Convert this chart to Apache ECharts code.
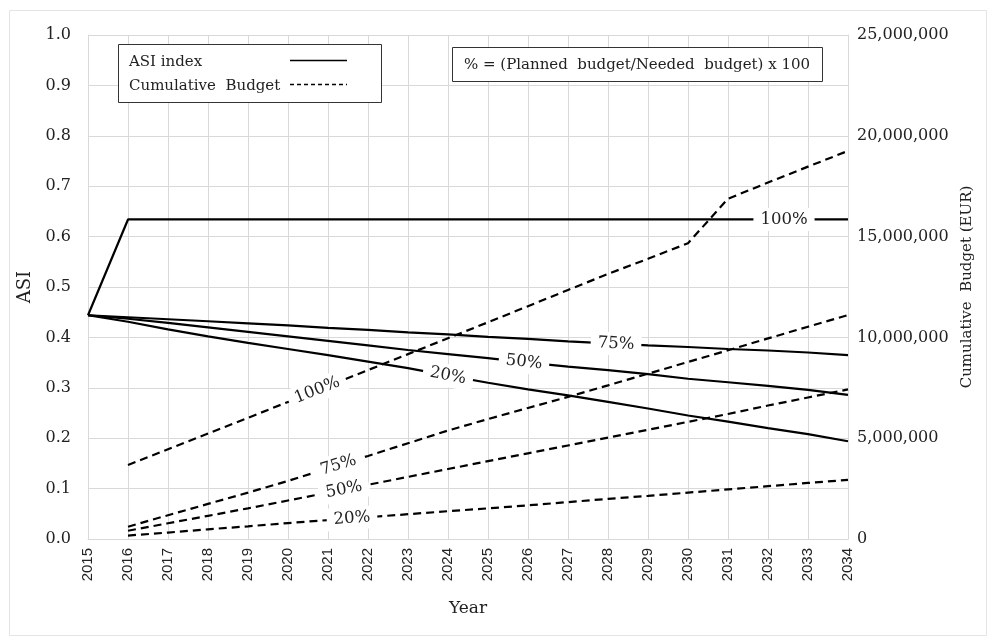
<!DOCTYPE html>
<html>
<head>
<meta charset="utf-8">
<script src="https://cdn.jsdelivr.net/npm/echarts@6/dist/echarts.min.js"></script>
<style>
  html, body { margin: 0; padding: 0; background: #ffffff; }
  #chart { width: 992px; height: 641px; }
</style>
</head>
<body>
<div id="chart"></div>
<script>
// Years on the horizontal axis
const years = [2015, 2016, 2017, 2018, 2019, 2020, 2021, 2022, 2023, 2024,
               2025, 2026, 2027, 2028, 2029, 2030, 2031, 2032, 2033, 2034];

// ASI index for each budget scenario (% of needed budget)
const asi100 = [0.444, 0.634, 0.634, 0.634, 0.634, 0.634, 0.634, 0.634, 0.634, 0.634,
                0.634, 0.634, 0.634, 0.634, 0.634, 0.634, 0.634, 0.634, 0.634, 0.634];
const asi75  = [0.444, 0.440, 0.436, 0.432, 0.428, 0.424, 0.419, 0.415, 0.410, 0.406,
                0.401, 0.397, 0.392, 0.388, 0.384, 0.381, 0.377, 0.374, 0.370, 0.365];
const asi50  = [0.444, 0.437, 0.429, 0.420, 0.411, 0.402, 0.393, 0.384, 0.375, 0.367,
                0.359, 0.350, 0.342, 0.335, 0.327, 0.318, 0.311, 0.304, 0.296, 0.286];
const asi20  = [0.444, 0.431, 0.416, 0.402, 0.389, 0.377, 0.365, 0.352, 0.339, 0.324,
                0.310, 0.297, 0.285, 0.272, 0.259, 0.245, 0.233, 0.220, 0.208, 0.194];

// Cumulative budget (EUR) for each scenario, starting in 2016
const budget100 = [null, 3670000, 4450000, 5230000, 6010000, 6800000, 7590000, 8380000, 9170000, 9960000,
                   10750000, 11550000, 12350000, 13150000, 13900000, 14670000, 16880000, 17680000, 18470000, 19250000];
const budget75  = [null, 610000, 1180000, 1740000, 2300000, 2880000, 3500000, 4120000, 4750000, 5380000,
                   5950000, 6500000, 7050000, 7620000, 8200000, 8780000, 9360000, 9950000, 10530000, 11110000];
const budget50  = [null, 410000, 780000, 1150000, 1520000, 1910000, 2300000, 2690000, 3080000, 3470000,
                   3860000, 4250000, 4640000, 5030000, 5420000, 5810000, 6200000, 6620000, 7020000, 7420000];
const budget20  = [null, 170000, 320000, 480000, 630000, 790000, 940000, 1080000, 1230000, 1380000,
                   1520000, 1670000, 1830000, 1990000, 2140000, 2300000, 2460000, 2620000, 2780000, 2930000];

// Scenario names and where along each line its name is written
const scenarioNames = ['100%', '75%', '50%', '20%'];
const asiLabelYears = [2032.4, 2028.2, 2025.9, 2024.0];
const budgetLabelYears = [2020.73, 2021.26, 2021.4, 2021.6];

// Left / right axis ticks
const asiTicks = { min: 0, max: 1, interval: 0.1 };
const budgetTicks = { min: 0, max: 25000000, interval: 5000000 };

const SERIF = 'DejaVu Serif';
const SANS = 'Liberation Sans';
const GRID_COLOR = '#d9d9d9';
const TEXT_COLOR = '#222222';

const asiSets = [asi100, asi75, asi50, asi20];
const budgetSets = [budget100, budget75, budget50, budget20];

function toPairs(vals) {
  const out = [];
  years.forEach((y, i) => { if (vals[i] != null) out.push([y, vals[i]]); });
  return out;
}

// Linear interpolation along a series, used to seat the scenario labels on their line
function interp(vals, x) {
  const pts = toPairs(vals);
  for (let i = 0; i < pts.length - 1; i++) {
    const a = pts[i], b = pts[i + 1];
    if (x >= a[0] && x <= b[0]) {
      const t = (x - a[0]) / (b[0] - a[0]);
      return a[1] + t * (b[1] - a[1]);
    }
  }
  return pts[pts.length - 1][1];
}

const chart = echarts.init(document.getElementById('chart'), null, { renderer: 'canvas' });

const series = [];
asiSets.forEach((vals, k) => {
  series.push({
    name: 'ASI ' + scenarioNames[k],
    type: 'line',
    xAxisIndex: 0,
    yAxisIndex: 0,
    data: toPairs(vals),
    symbol: 'none',
    z: 3,
    lineStyle: { color: '#000000', width: 2.2, type: 'solid' }
  });
});
budgetSets.forEach((vals, k) => {
  series.push({
    name: 'Budget ' + scenarioNames[k],
    type: 'line',
    xAxisIndex: 0,
    yAxisIndex: 1,
    data: toPairs(vals),
    symbol: 'none',
    z: 3,
    lineStyle: { color: '#000000', width: 2.2, type: [8, 5] }
  });
});

const BOX_Z = 20;

const option = {
  animation: false,
  backgroundColor: '#ffffff',
  grid: { left: 88, right: 144, top: 35, bottom: 102, containLabel: false },
  xAxis: {
    type: 'value',
    min: years[0],
    max: years[years.length - 1],
    interval: 1,
    name: 'Year',
    nameLocation: 'middle',
    nameGap: 61,
    nameTextStyle: { fontFamily: SERIF, fontSize: 17, color: TEXT_COLOR },
    axisLine: { show: true, lineStyle: { color: GRID_COLOR, width: 1 } },
    axisTick: { show: false },
    axisLabel: {
      rotate: 90, margin: 9, fontFamily: SANS, fontSize: 15, color: TEXT_COLOR,
      formatter: v => String(v)
    },
    splitLine: { show: true, lineStyle: { color: GRID_COLOR, width: 1 } }
  },
  yAxis: [
    {
      type: 'value',
      min: asiTicks.min, max: asiTicks.max, interval: asiTicks.interval,
      position: 'left',
      name: 'ASI',
      nameLocation: 'middle',
      nameRotate: 90,
      nameGap: 37,
      nameTextStyle: { fontFamily: SERIF, fontSize: 18, color: TEXT_COLOR },
      axisLine: { show: true, lineStyle: { color: GRID_COLOR, width: 1 } },
      axisTick: { show: false },
      axisLabel: { margin: 17, fontFamily: SERIF, fontSize: 16, color: TEXT_COLOR, formatter: v => v.toFixed(1) },
      splitLine: { show: true, lineStyle: { color: GRID_COLOR, width: 1 } }
    },
    {
      type: 'value',
      min: budgetTicks.min, max: budgetTicks.max, interval: budgetTicks.interval,
      position: 'right',
      name: 'Cumulative  Budget (EUR)',
      nameLocation: 'middle',
      nameRotate: 90,
      nameGap: 109,
      nameTextStyle: { fontFamily: SERIF, fontSize: 15, color: TEXT_COLOR },
      axisLine: { show: true, lineStyle: { color: GRID_COLOR, width: 1 } },
      axisTick: { show: false },
      axisLabel: {
        margin: 9, fontFamily: SERIF, fontSize: 16, color: TEXT_COLOR,
        formatter: v => v.toLocaleString('en-US')
      },
      splitLine: { show: false }
    }
  ],
  graphic: [
    // outer frame
    {
      type: 'rect', left: 7, top: 8, z: -10, silent: true,
      shape: { width: 977, height: 625 },
      style: { fill: 'none', stroke: '#e4e4e4', lineWidth: 1 }
    },
    // key for line styles
    {
      type: 'group', left: 118, top: 44, z: BOX_Z,
      children: [
        { type: 'rect', z: BOX_Z, shape: { x: 0.5, y: 0.5, width: 263, height: 58 },
          style: { fill: '#ffffff', stroke: '#333333', lineWidth: 1 } },
        { type: 'text', z: BOX_Z + 1, x: 11, y: 18,
          style: { text: 'ASI index', fontFamily: SERIF, fontSize: 15, fill: TEXT_COLOR, verticalAlign: 'middle' } },
        { type: 'text', z: BOX_Z + 1, x: 11, y: 42,
          style: { text: 'Cumulative  Budget', fontFamily: SERIF, fontSize: 15, fill: TEXT_COLOR, verticalAlign: 'middle' } },
        { type: 'line', z: BOX_Z + 1, shape: { x1: 172, y1: 16.5, x2: 229, y2: 16.5 },
          style: { stroke: '#000000', lineWidth: 1.3 } },
        { type: 'line', z: BOX_Z + 1, shape: { x1: 172, y1: 40.5, x2: 229, y2: 40.5 },
          style: { stroke: '#000000', lineWidth: 1.3, lineDash: [4, 3] } }
      ]
    },
    // definition of the scenario percentage
    {
      type: 'group', left: 452, top: 47, z: BOX_Z,
      children: [
        { type: 'rect', z: BOX_Z, shape: { x: 0.5, y: 0.5, width: 370, height: 34 },
          style: { fill: '#ffffff', stroke: '#333333', lineWidth: 1 } },
        { type: 'text', z: BOX_Z + 1, x: 185, y: 18,
          style: { text: '% = (Planned  budget/Needed  budget) x 100', fontFamily: SERIF, fontSize: 15,
                   fill: TEXT_COLOR, align: 'center', verticalAlign: 'middle' } }
      ]
    }
  ],
  series: series
};

chart.setOption(option);

// Angle of a series at a given year, in screen space, so labels follow their line
function angleAt(vals, x, yAxisIndex) {
  const p1 = chart.convertToPixel({ xAxisIndex: 0, yAxisIndex: yAxisIndex }, [x - 0.5, interp(vals, x - 0.5)]);
  const p2 = chart.convertToPixel({ xAxisIndex: 0, yAxisIndex: yAxisIndex }, [x + 0.5, interp(vals, x + 0.5)]);
  return -Math.atan2(p2[1] - p1[1], p2[0] - p1[0]) * 180 / Math.PI;
}

function labelMark(vals, x, yAxisIndex, text) {
  return {
    symbol: 'circle',
    symbolSize: 1,
    itemStyle: { color: 'rgba(0,0,0,0)' },
    label: {
      show: true,
      position: 'inside',
      formatter: text,
      fontFamily: SERIF,
      fontSize: 16.5,
      color: TEXT_COLOR,
      backgroundColor: '#ffffff',
      padding: [3, 7],
      rotate: angleAt(vals, x, yAxisIndex)
    },
    data: [{ coord: [x, interp(vals, x)] }]
  };
}

const markSeries = [];
asiSets.forEach((vals, k) => {
  markSeries.push({ markPoint: labelMark(vals, asiLabelYears[k], 0, scenarioNames[k]) });
});
budgetSets.forEach((vals, k) => {
  markSeries.push({ markPoint: labelMark(vals, budgetLabelYears[k], 1, scenarioNames[k]) });
});
chart.setOption({ series: markSeries });
</script>
</body>
</html>
